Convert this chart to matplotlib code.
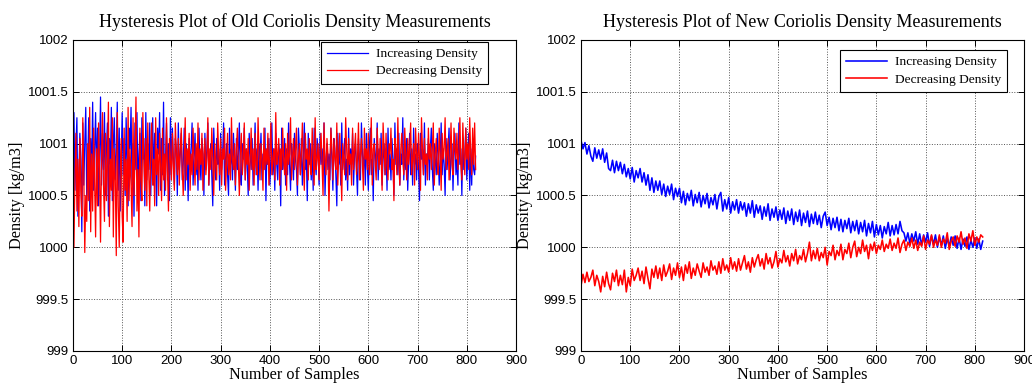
import matplotlib.pyplot as plt

# old meter: every 2nd sample, new meter: every 4th sample
samples_old = list(range(0, 820, 2))
samples_new = list(range(0, 820, 4))

old_increasing = [
    1000.90, 1001.30, 1000.55, 1000.95, 1001.25, 1000.30, 1000.70, 1001.10, 1000.85, 1000.15,
    1001.20, 1000.60, 1001.00, 1001.35, 1000.45, 1000.80, 1001.25, 1000.35, 1001.05, 1000.70,
    1001.40, 1000.55, 1000.95, 1001.30, 1000.65, 1001.15, 1000.40, 1000.85, 1001.45, 1000.60,
    1001.10, 1000.75, 1001.30, 1000.50, 1000.95, 1001.20, 1000.30, 1001.05, 1000.80, 1001.35,
    1000.45, 1001.00, 1001.25, 1000.65, 1000.90, 1001.40, 1000.55, 1001.15, 1000.35, 1000.85,
    1001.30, 1000.70, 1001.05, 1000.50, 1001.25, 1000.80, 1000.40, 1001.15, 1000.95, 1001.35,
    1000.60, 1001.00, 1000.30, 1001.20, 1000.75, 1001.30, 1000.55, 1000.90, 1001.10, 1000.45,
    1001.25, 1000.85, 1001.05, 1000.40, 1001.30, 1000.65, 1001.00, 1000.75, 1001.20, 1000.50,
    1000.95, 1001.25, 1000.60, 1001.10, 1000.80, 1000.40, 1001.15, 1000.90, 1001.30, 1000.55,
    1001.05, 1000.70, 1001.40, 1000.50, 1000.85, 1001.20, 1000.65, 1001.00, 1000.45, 1001.25,
    1000.70, 1001.15, 1000.85, 1000.60, 1001.05, 1000.95, 1000.50, 1001.20, 1000.75, 1000.90,
    1001.10, 1000.65, 1000.80, 1001.15, 1000.55, 1001.00, 1000.85, 1000.45, 1001.05, 1000.75,
    1000.95, 1001.20, 1000.60, 1000.85, 1001.10, 1000.70, 1000.90, 1000.55, 1001.15, 1000.80,
    1000.65, 1001.05, 1000.90, 1000.50, 1001.10, 1000.75, 1000.95, 1001.20, 1000.60, 1000.85,
    1001.00, 1000.70, 1000.40, 1001.15, 1000.85, 1000.65, 1001.05, 1000.80, 1000.95, 1000.55,
    1001.10, 1000.75, 1000.90, 1001.20, 1000.60, 1000.85, 1001.00, 1000.70, 1000.50, 1001.15,
    1000.80, 1000.95, 1000.65, 1001.10, 1000.85, 1000.55, 1001.05, 1000.75, 1000.90, 1001.20,
    1000.70, 1000.60, 1001.00, 1000.85, 1001.15, 1000.65, 1000.95, 1000.80, 1000.50, 1001.10,
    1000.90, 1000.75, 1001.05, 1000.60, 1000.85, 1001.20, 1000.70, 1000.95, 1000.55, 1001.00,
    1000.85, 1001.10, 1000.65, 1000.90, 1000.75, 1001.15, 1000.45, 1000.95, 1000.80, 1001.05,
    1000.60, 1000.85, 1001.20, 1000.70, 1000.95, 1000.55, 1001.10, 1000.80, 1000.65, 1001.00,
    1000.90, 1000.40, 1001.15, 1000.75, 1000.85, 1001.05, 1000.60, 1000.95, 1000.70, 1001.20,
    1000.80, 1000.55, 1001.00, 1000.90, 1000.65, 1001.10, 1000.85, 1000.75, 1000.50, 1001.15,
    1000.95, 1000.70, 1001.05, 1000.60, 1000.85, 1001.20, 1000.75, 1000.90, 1000.45, 1001.10,
    1000.80, 1001.00, 1000.65, 1000.95, 1000.55, 1001.15, 1000.85, 1000.70, 1001.05, 1000.90,
    1000.60, 1001.10, 1000.80, 1000.95, 1000.70, 1001.20, 1000.50, 1000.85, 1001.00, 1000.75,
    1000.90, 1000.65, 1001.15, 1000.85, 1000.55, 1001.05, 1000.95, 1000.70, 1000.40, 1001.10,
    1000.80, 1000.95, 1000.60, 1001.20, 1000.75, 1000.90, 1001.05, 1000.65, 1000.85, 1000.55,
    1001.15, 1000.70, 1000.95, 1000.80, 1001.10, 1000.60, 1000.90, 1001.00, 1000.75, 1000.50,
    1001.05, 1000.85, 1000.65, 1001.20, 1000.90, 1000.75, 1000.95, 1000.60, 1001.10, 1000.80,
    1000.55, 1000.95, 1001.15, 1000.70, 1000.85, 1000.45, 1001.05, 1000.90, 1000.75, 1001.20,
    1000.65, 1000.95, 1000.80, 1001.10, 1000.60, 1000.85, 1001.00, 1000.70, 1000.95, 1000.55,
    1001.15, 1000.75, 1000.90, 1000.65, 1001.05, 1000.85, 1000.50, 1001.20, 1000.80, 1000.95,
    1000.70, 1001.10, 1000.60, 1000.90, 1000.80, 1001.25, 1000.65, 1000.95, 1000.75, 1001.05,
    1000.55, 1000.85, 1001.10, 1000.70, 1000.95, 1000.60, 1001.15, 1000.80, 1000.90, 1000.65,
    1001.00, 1000.75, 1000.45, 1001.10, 1000.85, 1000.95, 1000.70, 1001.20, 1000.60, 1000.90,
    1000.80, 1001.05, 1000.65, 1000.95, 1001.15, 1000.75, 1000.55, 1001.00, 1000.85, 1000.70,
    1001.10, 1000.90, 1000.60, 1000.85, 1001.20, 1000.70, 1000.95, 1000.80, 1000.50, 1001.05,
    1000.75, 1000.95, 1001.15, 1000.65, 1000.85, 1001.00, 1000.55, 1000.90, 1001.10, 1000.70,
    1000.85, 1000.60, 1001.20, 1000.80, 1000.95, 1000.50, 1001.05, 1000.75, 1000.90, 1001.15,
    1000.65, 1000.85, 1001.10, 1000.55, 1000.95, 1000.60, 1001.05, 1000.75, 1000.70, 1000.88,
]

old_decreasing = [
    1000.80, 1000.00, 1000.65, 1001.10, 1000.35, 1000.85, 1000.20, 1001.05, 1000.55, 1000.30,
    1001.25, 1000.70, 999.95, 1000.50, 1000.25, 1001.00, 1000.45, 1001.35, 1000.15, 1000.90,
    1000.35, 1001.15, 1000.60, 1000.10, 1000.95, 1000.40, 1001.20, 1000.75, 1000.05, 1000.85,
    1001.30, 1000.60, 1000.25, 1001.10, 1000.45, 1000.80, 1001.40, 1000.20, 1000.85, 1000.55,
    1001.25, 1000.10, 1000.95, 1000.65, 999.92, 1001.30, 1000.40, 1000.00, 1000.75, 1001.05,
    1000.30, 1000.05, 1001.15, 1000.55, 1000.85, 1000.25, 1001.35, 1000.45, 1000.95, 1000.60,
    1000.20, 1001.25, 1000.50, 1000.90, 1001.45, 1000.35, 1000.75, 1000.10, 1001.15, 1000.65,
    1000.45, 1001.30, 1000.85, 1000.55, 1001.05, 1000.40, 1001.20, 1000.70, 1000.35, 1000.95,
    1001.20, 1000.60, 1000.85, 1000.40, 1001.25, 1000.70, 1000.95, 1000.50, 1001.10, 1000.80,
    1000.45, 1001.15, 1000.65, 1000.90, 1000.55, 1001.25, 1000.75, 1000.35, 1001.05, 1000.85,
    1000.65, 1001.10, 1000.80, 1000.55, 1001.20, 1000.90, 1000.70, 1001.05, 1000.60, 1000.95,
    1001.15, 1000.75, 1000.50, 1000.85, 1001.25, 1000.65, 1000.95, 1000.80, 1001.10, 1000.55,
    1000.90, 1000.70, 1001.15, 1000.85, 1000.60, 1001.00, 1000.75, 1001.20, 1000.65, 1000.95,
    1000.80, 1001.10, 1000.55, 1000.90, 1001.05, 1000.70, 1000.85, 1001.25, 1000.60, 1000.95,
    1000.75, 1001.15, 1000.85, 1000.50, 1001.00, 1000.80, 1000.65, 1001.20, 1000.90, 1000.70,
    1001.05, 1000.60, 1000.95, 1000.85, 1001.15, 1000.55, 1000.80, 1001.10, 1000.70, 1000.90,
    1000.65, 1001.25, 1000.85, 1000.75, 1001.00, 1000.60, 1000.95, 1001.15, 1000.80, 1000.50,
    1000.90, 1001.10, 1000.70, 1000.85, 1001.20, 1000.65, 1000.95, 1000.80, 1001.05, 1000.55,
    1000.85, 1001.15, 1000.75, 1000.95, 1000.60, 1001.10, 1000.80, 1000.70, 1001.25, 1000.90,
    1000.65, 1001.00, 1000.85, 1000.55, 1001.15, 1000.75, 1000.95, 1000.80, 1001.10, 1000.60,
    1000.90, 1001.20, 1000.70, 1000.85, 1000.95, 1000.65, 1001.30, 1000.80, 1000.90, 1001.05,
    1000.60, 1000.95, 1000.75, 1001.15, 1000.85, 1000.70, 1001.00, 1000.55, 1001.10, 1000.80,
    1000.90, 1001.25, 1000.65, 1000.85, 1001.05, 1000.75, 1000.95, 1001.15, 1000.60, 1000.85,
    1001.00, 1000.70, 1000.90, 1001.20, 1000.80, 1000.55, 1001.10, 1000.85, 1000.95, 1000.65,
    1001.05, 1000.80, 1000.70, 1001.15, 1000.90, 1000.60, 1001.25, 1000.75, 1000.85, 1001.00,
    1000.65, 1000.95, 1001.10, 1000.80, 1000.50, 1001.20, 1000.85, 1000.70, 1001.05, 1000.90,
    1000.35, 1000.80, 1001.15, 1000.95, 1000.65, 1001.05, 1000.85, 1000.75, 1001.20, 1000.60,
    1000.90, 1001.10, 1000.80, 1000.45, 1001.00, 1000.85, 1000.70, 1001.25, 1000.95, 1000.65,
    1001.05, 1000.80, 1000.90, 1000.60, 1001.15, 1000.75, 1000.95, 1001.10, 1000.70, 1000.85,
    1001.20, 1000.65, 1000.90, 1001.05, 1000.80, 1000.55, 1001.15, 1000.85, 1000.95, 1000.75,
    1001.10, 1000.70, 1000.85, 1001.25, 1000.60, 1000.95, 1001.00, 1000.80, 1000.65, 1001.15,
    1000.90, 1000.75, 1001.05, 1000.85, 1000.55, 1001.20, 1000.95, 1000.70, 1001.10, 1000.80,
    1000.65, 1001.00, 1000.90, 1001.15, 1000.75, 1000.85, 1000.45, 1001.05, 1000.95, 1000.70,
    1001.25, 1000.80, 1000.60, 1000.95, 1001.10, 1000.85, 1000.70, 1001.15, 1000.90, 1000.65,
    1001.05, 1000.80, 1000.95, 1001.20, 1000.70, 1000.85, 1001.00, 1000.60, 1001.15, 1000.90,
    1000.75, 1001.10, 1000.85, 1000.55, 1001.25, 1000.95, 1000.70, 1001.05, 1000.80, 1000.90,
    1000.65, 1001.15, 1000.85, 1001.00, 1000.75, 1000.95, 1001.20, 1000.60, 1000.90, 1001.05,
    1000.80, 1000.70, 1001.15, 1000.90, 1000.55, 1001.10, 1000.85, 1000.95, 1001.25, 1000.75,
    1000.90, 1001.05, 1000.65, 1000.85, 1001.20, 1000.80, 1000.70, 1001.15, 1000.95, 1000.85,
    1001.10, 1000.75, 1000.90, 1001.25, 1000.80, 1000.65, 1001.20, 1000.90, 1000.70, 1001.15,
    1000.85, 1001.00, 1000.75, 1001.25, 1000.90, 1000.70, 1001.15, 1000.80, 1001.20, 1000.75,
]

new_increasing = [
    1001.03, 1000.95, 1001.01, 1000.90, 1000.98, 1000.88, 1000.83, 1000.96, 1000.86, 1000.94,
    1000.85, 1000.95, 1000.82, 1000.91, 1000.76, 1000.74, 1000.84, 1000.72, 1000.83, 1000.74,
    1000.82, 1000.71, 1000.80, 1000.68, 1000.76, 1000.66, 1000.77, 1000.63, 1000.74, 1000.67,
    1000.76, 1000.63, 1000.72, 1000.60, 1000.70, 1000.55, 1000.67, 1000.53, 1000.64, 1000.55,
    1000.64, 1000.51, 1000.61, 1000.49, 1000.59, 1000.51, 1000.61, 1000.46, 1000.57, 1000.49,
    1000.57, 1000.43, 1000.54, 1000.41, 1000.52, 1000.45, 1000.55, 1000.40, 1000.51, 1000.43,
    1000.53, 1000.39, 1000.50, 1000.42, 1000.52, 1000.38, 1000.48, 1000.41, 1000.51, 1000.37,
    1000.49, 1000.53, 1000.35, 1000.46, 1000.37, 1000.48, 1000.33, 1000.44, 1000.36, 1000.46,
    1000.33, 1000.44, 1000.36, 1000.43, 1000.30, 1000.42, 1000.33, 1000.45, 1000.29, 1000.41,
    1000.33, 1000.40, 1000.27, 1000.39, 1000.30, 1000.42, 1000.26, 1000.37, 1000.29, 1000.39,
    1000.26, 1000.36, 1000.27, 1000.38, 1000.23, 1000.35, 1000.26, 1000.37, 1000.22, 1000.34,
    1000.25, 1000.36, 1000.21, 1000.33, 1000.24, 1000.35, 1000.20, 1000.32, 1000.23, 1000.34,
    1000.22, 1000.31, 1000.19, 1000.30, 1000.34, 1000.21, 1000.29, 1000.17, 1000.28, 1000.19,
    1000.29, 1000.16, 1000.27, 1000.15, 1000.26, 1000.18, 1000.28, 1000.14, 1000.25, 1000.16,
    1000.26, 1000.13, 1000.24, 1000.15, 1000.26, 1000.11, 1000.23, 1000.14, 1000.25, 1000.10,
    1000.22, 1000.12, 1000.21, 1000.09, 1000.20, 1000.13, 1000.24, 1000.11, 1000.21, 1000.12,
    1000.22, 1000.13, 1000.25, 1000.16, 1000.14, 1000.06, 1000.14, 1000.04, 1000.13, 1000.06,
    1000.15, 1000.03, 1000.13, 1000.02, 1000.12, 1000.05, 1000.14, 1000.01, 1000.11, 1000.03,
    1000.12, 1000.00, 1000.10, 1000.02, 1000.11, 999.99, 1000.09, 1000.01, 1000.10, 1000.02,
    1000.11, 999.99, 1000.09, 999.98, 1000.08, 1000.01, 1000.10, 999.98, 1000.07, 1000.00,
    1000.09, 999.99, 1000.08, 999.98, 1000.06,
]

new_decreasing = [
    999.63, 999.74, 999.66, 999.76, 999.67, 999.71, 999.78, 999.63, 999.73, 999.67,
    999.57, 999.72, 999.62, 999.76, 999.65, 999.59, 999.75, 999.67, 999.78, 999.63,
    999.73, 999.64, 999.78, 999.57, 999.71, 999.63, 999.79, 999.68, 999.73, 999.80,
    999.68, 999.77, 999.65, 999.81, 999.70, 999.60, 999.79, 999.71, 999.82, 999.70,
    999.80, 999.68, 999.83, 999.72, 999.77, 999.84, 999.69, 999.80, 999.73, 999.85,
    999.71, 999.81, 999.68, 999.83, 999.75, 999.86, 999.70, 999.80, 999.73, 999.84,
    999.77, 999.71, 999.85, 999.76, 999.81, 999.73, 999.87, 999.78, 999.82, 999.74,
    999.86, 999.75, 999.89, 999.78, 999.83, 999.76, 999.90, 999.79, 999.86, 999.77,
    999.89, 999.78, 999.85, 999.92, 999.79, 999.86, 999.76, 999.90, 999.81, 999.88,
    999.93, 999.82, 999.89, 999.79, 999.94, 999.84, 999.90, 999.80, 999.86, 999.96,
    999.81, 999.89, 999.85, 999.97, 999.86, 999.92, 999.82, 999.94, 999.87, 999.98,
    999.84, 999.92, 999.88, 999.98, 999.86, 999.94, 1000.05, 999.87, 999.97, 999.89,
    999.99, 999.87, 999.95, 999.90, 1000.00, 999.83, 999.96, 999.92, 1000.02, 999.88,
    999.97, 999.92, 1000.03, 999.88, 999.98, 999.94, 1000.04, 999.90, 1000.00, 1000.06,
    999.91, 1000.00, 999.94, 1000.07, 999.96, 1000.02, 999.89, 1000.03, 999.97, 1000.05,
    999.94, 1000.02, 999.98, 1000.07, 999.96, 1000.03, 999.99, 1000.08, 999.97, 1000.04,
    999.99, 1000.09, 999.95, 1000.03, 1000.07, 999.97, 1000.05, 1000.01, 1000.09, 999.99,
    1000.07, 999.97, 1000.05, 1000.01, 1000.11, 999.98, 1000.07, 1000.03, 1000.12, 1000.00,
    1000.07, 1000.02, 1000.12, 1000.00, 1000.08, 1000.04, 1000.14, 999.98, 1000.06, 1000.10,
    1000.01, 1000.11, 1000.05, 1000.15, 1000.03, 1000.09, 999.99, 1000.13, 1000.06, 1000.16,
    1000.02, 1000.10, 1000.05, 1000.12, 1000.10,
]

x_ticks = list(range(0, 1000, 100))
y_ticks = [999, 999.5, 1000, 1000.5, 1001, 1001.5, 1002]
y_labels = ["999", "999.5", "1000", "1000.5", "1001", "1001.5", "1002"]

serif = "Liberation Serif"
sans = "Liberation Sans"

fig = plt.figure(figsize=(10.32, 3.89), dpi=100)
ax1 = fig.add_axes([0.0707, 0.0977, 0.4293, 0.7995])
ax2 = fig.add_axes([0.5630, 0.0977, 0.4293, 0.7995])

panels = [
    (ax1, samples_old, old_increasing, old_decreasing, 0.9,
     "Hysteresis Plot of Old Coriolis Density Measurements", (0.937, 0.994)),
    (ax2, samples_new, new_increasing, new_decreasing, 1.15,
     "Hysteresis Plot of New Coriolis Density Measurements", (0.962, 0.968)),
]

for ax, xs, inc, dec, lw, title, anchor in panels:
    ax.plot(xs, inc, color="#0000ff", lw=lw, label="Increasing Density")
    ax.plot(xs, dec, color="#ff0000", lw=lw, label="Decreasing Density")
    ax.set_xlim(0, 900)
    ax.set_ylim(999, 1002)
    ax.set_xticks(x_ticks)
    ax.set_yticks(y_ticks)
    ax.set_yticklabels(y_labels)
    ax.grid(True, color="#555555", linestyle=":", linewidth=0.7)
    ax.tick_params(direction="in", top=True, right=True, length=4, width=0.7,
                   labelsize=9.5, pad=3)
    for lbl in ax.get_xticklabels() + ax.get_yticklabels():
        lbl.set_fontfamily(sans)
    for sp in ax.spines.values():
        sp.set_linewidth(0.8)
    ax.set_title(title, fontsize=13, family=serif, pad=9)
    ax.set_xlabel("Number of Samples", fontsize=11.7, family=serif, labelpad=0)
    ax.set_ylabel("Density [kg/m3]", fontsize=11.7, family=serif, labelpad=2)
    leg = ax.legend(loc="upper right", bbox_to_anchor=anchor, borderaxespad=0,
                    prop={"family": serif, "size": 9.7}, fancybox=False,
                    framealpha=1, edgecolor="black", handlelength=3.0,
                    handletextpad=0.6, borderpad=0.45, labelspacing=0.35)
    leg.get_frame().set_linewidth(0.8)

fig.savefig("out.png", dpi=100)
